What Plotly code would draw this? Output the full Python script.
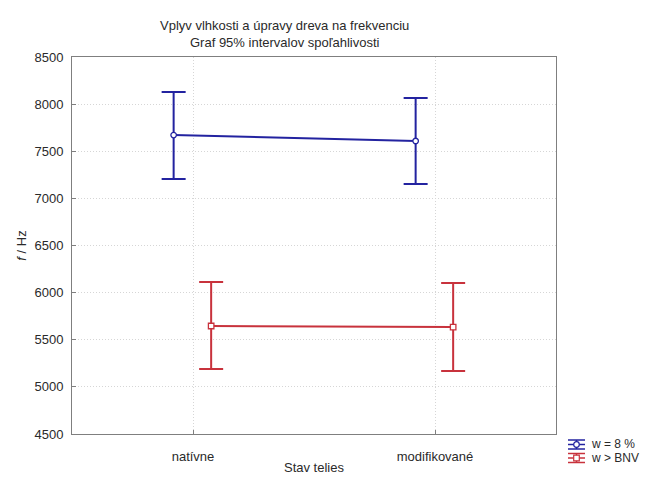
import plotly.graph_objects as go

# Stav telies (x categories)
categories = ["natívne", "modifikované"]

# Means and 95% confidence bounds of frequency f [Hz]
mean_w8 = [7672, 7609]
upper_w8 = [8129, 8065]
lower_w8 = [7206, 7153]

mean_bnv = [5646, 5635]
upper_bnv = [6113, 6102]
lower_bnv = [5190, 5168]

series_names = ["w = 8 %", "w > BNV"]
y_ticks = [4500, 5000, 5500, 6000, 6500, 7000, 7500, 8000, 8500]

BLUE = "#2323a0"
RED = "#c8323c"
FONT = "Liberation Sans, Arial, sans-serif"
TXT = "#2a2a2a"

# horizontal dodge of the two series around each category
dodge = {"w8": -0.08, "bnv": 0.075}
x_idx = list(range(len(categories)))

fig = go.Figure()


def add_series(means, up, lo, shift, color, symbol, name):
    fig.add_trace(go.Scatter(
        x=[i + shift for i in x_idx],
        y=means,
        mode="lines+markers",
        name=name,
        line=dict(color=color, width=2),
        marker=dict(symbol=symbol, size=5.5, color="white",
                    line=dict(color=color, width=1.3)),
        error_y=dict(type="data", symmetric=False,
                     array=[u - m for u, m in zip(up, means)],
                     arrayminus=[m - l for m, l in zip(means, lo)],
                     color=color, thickness=2, width=12),
        showlegend=False,
    ))


add_series(mean_w8, upper_w8, lower_w8, dodge["w8"], BLUE, "circle", series_names[0])
add_series(mean_bnv, upper_bnv, lower_bnv, dodge["bnv"], RED, "square", series_names[1])

axis_common = dict(
    showline=True, linecolor="#7f7f7f", linewidth=1, mirror=True,
    showgrid=True, gridcolor="#d6d6d6", griddash="1px,2px", gridwidth=1,
    ticks="inside", ticklen=4, tickcolor="#7f7f7f",
    tickfont=dict(family=FONT, size=13, color=TXT),
    zeroline=False, automargin=False,
)

fig.update_xaxes(
    range=[-0.5, 1.5], tickmode="array", tickvals=x_idx, ticktext=categories,
    ticklabelstandoff=10,
    title=dict(text="Stav telies", font=dict(family=FONT, size=13, color=TXT),
               standoff=0),
    **axis_common,
)
fig.update_yaxes(
    range=[4500, 8500], tickmode="array", tickvals=y_ticks,
    ticktext=[str(v) for v in y_ticks],
    ticklabelstandoff=5,
    title=dict(text="<i>f</i> / Hz", font=dict(family=FONT, size=13, color=TXT),
               standoff=4),
    **axis_common,
)

# Two-line title
fig.add_annotation(text="Vplyv vlhkosti a úpravy dreva na frekvenciu",
                   xref="paper", yref="paper", x=0.44, y=1.0, yshift=41,
                   showarrow=False, font=dict(family=FONT, size=13, color=TXT))
fig.add_annotation(text="Graf 95% intervalov spoľahlivosti",
                   xref="paper", yref="paper", x=0.44, y=1.0, yshift=24,
                   showarrow=False, font=dict(family=FONT, size=13, color=TXT))

# Legend drawn with error-bar glyphs
PW, PH, L, B = 484, 377, 72, 434


def px(xp):
    return (xp - L) / PW


def py(yp):
    return (B - yp) / PH


shapes = []
legend_rows = [(series_names[0], BLUE, "circle", 444.5), (series_names[1], RED, "rect", 458)]
for label, color, kind, yc in legend_rows:
    x0, x1, xm = 568, 585, 576.5
    for dy in (-4.5, 0, 4.5):
        shapes.append(dict(type="line", xref="paper", yref="paper",
                           x0=px(x0), x1=px(x1), y0=py(yc + dy), y1=py(yc + dy),
                           line=dict(color=color, width=1.5)))
    shapes.append(dict(type="line", xref="paper", yref="paper",
                       x0=px(xm), x1=px(xm), y0=py(yc - 4.5), y1=py(yc + 4.5),
                       line=dict(color=color, width=1.5)))
    shapes.append(dict(type=kind, xref="paper", yref="paper",
                       x0=px(xm - 2.8), x1=px(xm + 2.8), y0=py(yc - 2.8), y1=py(yc + 2.8),
                       fillcolor="white", line=dict(color=color, width=1.2)))
    fig.add_annotation(text=label, xref="paper", yref="paper",
                       x=px(590), y=py(yc), xanchor="left", yanchor="middle",
                       showarrow=False, borderpad=0,
                       font=dict(family=FONT, size=12, color=TXT))

fig.update_layout(
    width=658, height=482,
    margin=dict(l=L, r=658 - L - PW, t=57, b=482 - B),
    paper_bgcolor="white", plot_bgcolor="white",
    shapes=shapes,
    showlegend=False,
)

fig.write_html("out.html")
